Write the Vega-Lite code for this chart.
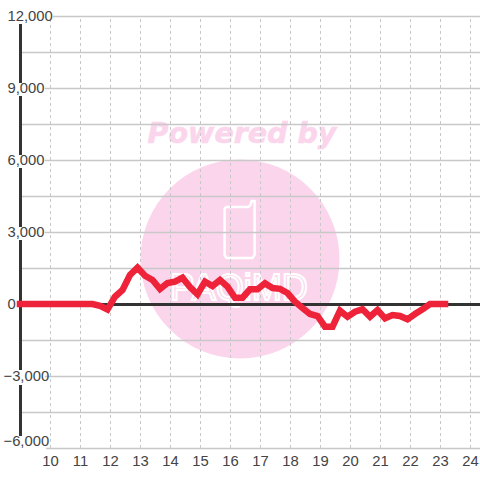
{
"$schema":"https://vega.github.io/schema/vega-lite/v6.json",
"width":460,"height":432,"autosize":"none",
"padding":{"left":20,"top":16,"right":0,"bottom":32},
"background":"white",
"view":{"stroke":null},
"encoding":{
"x":{"field":"t","type":"quantitative","scale":{"domain":[9,24.3333],"nice":false,"zero":false},
"axis":{"title":null,"values":[10,11,12,13,14,15,16,17,18,19,20,21,22,23,24],"grid":false,"domain":false,"ticks":false,"tickSize":0,"labelPadding":5,"labelFont":"Liberation Sans","labelFontSize":14.8,"labelColor":"#444444","labelFlush":false,"labelOverlap":false,"format":"d","zindex":1}},
"y":{"field":"v","type":"quantitative","scale":{"domain":[-6000,12000],"nice":false,"zero":false},
"axis":{"title":null,"values":[-6000,-3000,0,3000,6000,9000,12000],"grid":false,"domain":false,"ticks":false,"tickSize":0,"labelAlign":"left","labelPadding":{"condition":{"test":"datum.value<0","value":17},"value":13},"labelOffset":{"condition":{"test":"datum.value==-6000","value":-6.5},"value":0.5},"labelFont":"Liberation Sans","labelFontSize":14.8,"labelColor":"#444444","labelFlush":false,"labelOverlap":false,"format":",d","zindex":1}}
},
"layer":[
{"data":{"values":[{"t":16.3333,"v":1875}]},"mark":{"type":"point","filled":true,"shape":"circle","size":39600,"color":"#fbd5ec","opacity":1}},
{"data":{"values":[{"i":1,"t":15.85,"v":4040},{"i":2,"t":16.62,"v":4040},{"i":3,"t":16.68,"v":4130},{"i":4,"t":16.72,"v":4290},{"i":5,"t":16.82,"v":4290},{"i":6,"t":16.82,"v":2040},{"i":7,"t":16.75,"v":1920},{"i":8,"t":15.88,"v":1920},{"i":9,"t":15.82,"v":2040},{"i":10,"t":15.82,"v":3960},{"i":11,"t":15.85,"v":4040}]},"mark":{"type":"line","color":"white","strokeWidth":2.5,"strokeJoin":"round"},"encoding":{"order":{"field":"i","type":"quantitative"}}},
{"data":{"values":[{"t":16.3,"v":625,"label":"PAQiMD"}]},"mark":{"type":"text","font":"Liberation Sans","fontSize":36,"fill":"#fbd5ec","stroke":"white","strokeWidth":2,"align":"center","baseline":"middle"},"encoding":{"text":{"field":"label"}}},
{"data":{"values":[{"t":16.4,"v":7083,"label":"Powered by"}]},"mark":{"type":"text","font":"DejaVu Sans","fontWeight":"bold","fontStyle":"italic","fontSize":28.5,"color":"#fbd5ec","stroke":"#fbd5ec","strokeWidth":0.6,"align":"center","baseline":"middle"},"encoding":{"text":{"field":"label"}}},
{"data":{"values":[{"t":10,"v":-6000,"v2":12000},{"t":11,"v":-6000,"v2":12000},{"t":12,"v":-6000,"v2":12000},{"t":13,"v":-6000,"v2":12000},{"t":14,"v":-6000,"v2":12000},{"t":15,"v":-6000,"v2":12000},{"t":16,"v":-6000,"v2":12000},{"t":17,"v":-6000,"v2":12000},{"t":18,"v":-6000,"v2":12000},{"t":19,"v":-6000,"v2":12000},{"t":20,"v":-6000,"v2":12000},{"t":21,"v":-6000,"v2":12000},{"t":22,"v":-6000,"v2":12000},{"t":23,"v":-6000,"v2":12000},{"t":24,"v":-6000,"v2":12000}]},"mark":{"type":"rule","color":"#c8c8c8","strokeWidth":1,"strokeDash":[3,3],"xOffset":0.5},"encoding":{"y2":{"field":"v2"}}},
{"data":{"values":[{"v":12000,"t":10.1,"t2":24.3333},{"v":10500,"t":9,"t2":24.3333},{"v":9000,"t":9.83,"t2":24.3333},{"v":7500,"t":9,"t2":24.3333},{"v":6000,"t":9.83,"t2":24.3333},{"v":4500,"t":9,"t2":24.3333},{"v":3000,"t":9.83,"t2":24.3333},{"v":1500,"t":9,"t2":24.3333},{"v":-1500,"t":9,"t2":24.3333},{"v":-3000,"t":9.83,"t2":24.3333},{"v":-4500,"t":9,"t2":24.3333},{"v":-6000,"t":9.87,"t2":24.3333}]},"mark":{"type":"rule","color":"#c8c8c8","strokeWidth":1.3,"yOffset":0.5},"encoding":{"x2":{"field":"t2"}}},
{"data":{"values":[{"v":0,"t":9,"t2":24.3333}]},"mark":{"type":"rule","color":"#333333","strokeWidth":3,"yOffset":0.5},"encoding":{"x2":{"field":"t2"}}},
{"data":{"values":[{"t":9,"v":11667,"v2":9208},{"t":9,"v":8667,"v2":6208},{"t":9,"v":5667,"v2":3208},{"t":9,"v":2667,"v2":-2750},{"t":9,"v":-3375,"v2":-5500}]},"mark":{"type":"rule","color":"#333333","strokeWidth":3,"xOffset":0.5},"encoding":{"y2":{"field":"v2"}}},
{"data":{"values":[{"t":9,"v":0},{"t":9.1667,"v":0},{"t":9.4167,"v":0},{"t":9.6667,"v":0},{"t":9.9167,"v":0},{"t":10.1667,"v":0},{"t":10.4167,"v":0},{"t":10.6667,"v":0},{"t":10.9167,"v":0},{"t":11.1667,"v":0},{"t":11.4167,"v":0},{"t":11.6667,"v":-80},{"t":11.9167,"v":-230},{"t":12.1667,"v":304},{"t":12.4167,"v":583},{"t":12.6667,"v":1208},{"t":12.9167,"v":1512},{"t":13.1667,"v":1179},{"t":13.4167,"v":1000},{"t":13.6667,"v":625},{"t":13.9167,"v":875},{"t":14.1667,"v":929},{"t":14.4167,"v":1096},{"t":14.6667,"v":708},{"t":14.9167,"v":404},{"t":15.1667,"v":929},{"t":15.4167,"v":750},{"t":15.6667,"v":1000},{"t":15.9167,"v":721},{"t":16.1667,"v":262},{"t":16.4167,"v":262},{"t":16.6667,"v":612},{"t":16.9167,"v":612},{"t":17.1667,"v":862},{"t":17.4167,"v":667},{"t":17.6667,"v":633},{"t":17.9167,"v":458},{"t":18.1667,"v":96},{"t":18.4167,"v":-167},{"t":18.6667,"v":-417},{"t":18.9167,"v":-500},{"t":19.1667,"v":-946},{"t":19.4167,"v":-946},{"t":19.6667,"v":-279},{"t":19.9167,"v":-529},{"t":20.1667,"v":-321},{"t":20.4167,"v":-221},{"t":20.6667,"v":-529},{"t":20.9167,"v":-250},{"t":21.1667,"v":-596},{"t":21.4167,"v":-458},{"t":21.6667,"v":-500},{"t":21.9167,"v":-638},{"t":22.1667,"v":-417},{"t":22.4167,"v":-221},{"t":22.6667,"v":0},{"t":22.9167,"v":0},{"t":23.1667,"v":0}]},"mark":{"type":"line","color":"#ee2238","strokeWidth":6.5,"strokeCap":"square","strokeJoin":"miter"}}
]
}
